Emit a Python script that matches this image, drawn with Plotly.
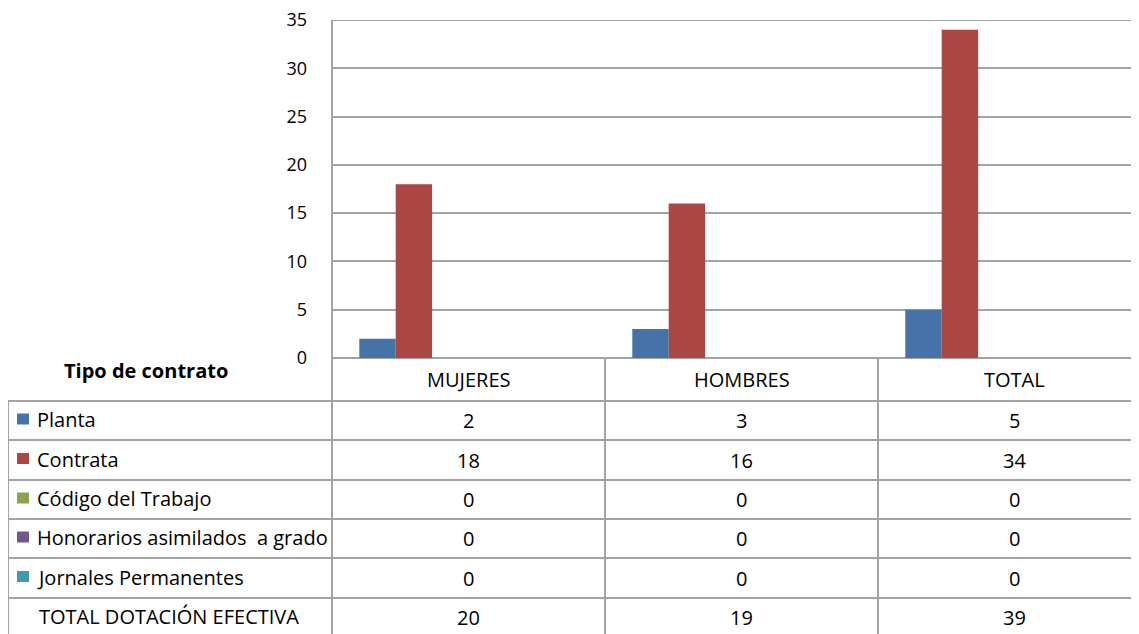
import plotly.graph_objects as go

# ---------------- data ----------------
categories = ["MUJERES", "HOMBRES", "TOTAL"]
series_names = ["Planta", "Contrata", "Código del Trabajo",
                "Honorarios asimilados  a grado", "Jornales Permanentes",
                "TOTAL DOTACIÓN EFECTIVA"]
planta = [2, 3, 5]
contrata = [18, 16, 34]
codigo_trabajo = [0, 0, 0]
honorarios = [0, 0, 0]
jornales = [0, 0, 0]
total_dotacion = [20, 19, 39]
y_ticks = [0, 5, 10, 15, 20, 25, 30, 35]
table_title = "Tipo de contrato"

series_values = [planta, contrata, codigo_trabajo, honorarios, jornales, total_dotacion]
colors = ["#4572A7", "#AA4643", "#89A54E", "#71588F", "#4198AF", "rgba(0,0,0,0)"]
show_key = [True, True, True, True, True, False]

# ---------------- geometry helpers ----------------
# the page body has an 8px margin, so the figure is drawn offset by 8px
OFF = 8
W, H = 1139 - OFF, 634 - OFF
def px(x):
    return (x - OFF) / W
def py(y):
    return 1 - (y - OFF) / H

FONT = "Open Sans"
TXT = "#000000"
GRID = "#a3a3a3"
TSIZE = 20

def disp(s):
    return s.replace("  ", "\u00a0 ")

fig = go.Figure()
for name, vals, col in zip(series_names, series_values, colors):
    fig.add_trace(go.Bar(x=categories, y=vals, name=name,
                         marker=dict(color=col, line=dict(width=0)),
                         showlegend=False, hoverinfo="x+y+name"))

CAT_W = 605 - 332  # pixel width of one category
fig.update_layout(
    width=W, height=H,
    margin=dict(l=0, r=0, t=0, b=0, autoexpand=False),
    paper_bgcolor="white", plot_bgcolor="white",
    showlegend=False,
    barmode="group", bargap=0.2, bargroupgap=0,
    font=dict(family=FONT, size=TSIZE, color=TXT),
    xaxis=dict(domain=[px(332), 1], type="category", automargin=False,
               range=[-0.5, -0.5 + (1139 - 332) / CAT_W],
               showticklabels=False, showgrid=False, zeroline=False, showline=False),
    yaxis=dict(domain=[py(358), py(20)], range=[0, 35], tickvals=y_ticks,
               automargin=False, ticklabeloverflow="allow",
               showgrid=True, gridcolor=GRID, gridwidth=2,
               zeroline=True, zerolinecolor=GRID, zerolinewidth=2,
               showline=False, ticks="", ticklabelstandoff=24,
               tickfont=dict(family=FONT, size=18, color=TXT)),
)

shapes = []
line = dict(color=GRID, width=2)
# top border of the plot area (level of the highest tick)
shapes.append(dict(type="line", xref="paper", yref="y", x0=px(332), x1=px(1145),
                   y0=y_ticks[-1], y1=y_ticks[-1], line=line))
# left axis line running down through the table
shapes.append(dict(type="line", xref="paper", yref="paper", x0=px(332), x1=px(332),
                   y0=py(20), y1=py(640), line=line))
# column separators in the table
for b in [0.5, 1.5]:
    shapes.append(dict(type="line", xref="x", yref="paper", x0=b, x1=b,
                       y0=py(358), y1=py(640), line=line))
# row lines
row_lines = [401, 440, 480, 519, 558, 598, 637]
for yy in row_lines[:-1]:
    shapes.append(dict(type="line", xref="paper", yref="paper", x0=px(8), x1=px(1145),
                       y0=py(yy), y1=py(yy), line=line))
# left border of table
shapes.append(dict(type="line", xref="paper", yref="paper", x0=px(8), x1=px(8),
                   y0=py(400), y1=py(640), line=line))

annotations = []
annotations.append(dict(text="<b>" + table_title + "</b>", xref="paper", yref="paper",
                        x=px(146), y=py(370), xanchor="center", yanchor="middle",
                        showarrow=False, font=dict(family=FONT, size=TSIZE, color=TXT)))
for c in categories:
    annotations.append(dict(text=c, xref="x", yref="paper", x=c, y=py(380),
                            xanchor="center", yanchor="middle", showarrow=False,
                            font=dict(family=FONT, size=TSIZE, color=TXT)))
for i, (name, vals, col, key) in enumerate(zip(series_names, series_values, colors, show_key)):
    yc = (row_lines[i] + row_lines[i + 1]) / 2.0
    if key:
        shapes.append(dict(type="rect", xref="paper", yref="paper",
                           x0=px(17), x1=px(29), y0=py(yc + 4), y1=py(yc - 7),
                           fillcolor=col, line=dict(width=0)))
        lx = 35
    else:
        lx = 37
    annotations.append(dict(text=disp(name), xref="paper", yref="paper", x=px(lx), y=py(yc - 1),
                            xanchor="left", yanchor="middle", showarrow=False,
                            font=dict(family=FONT, size=TSIZE, color=TXT)))
    for c, v in zip(categories, vals):
        annotations.append(dict(text=str(v), xref="x", yref="paper", x=c, y=py(yc),
                                xanchor="center", yanchor="middle", showarrow=False,
                                font=dict(family=FONT, size=TSIZE, color=TXT)))

fig.update_layout(shapes=shapes, annotations=annotations)
fig.write_html("out.html")
